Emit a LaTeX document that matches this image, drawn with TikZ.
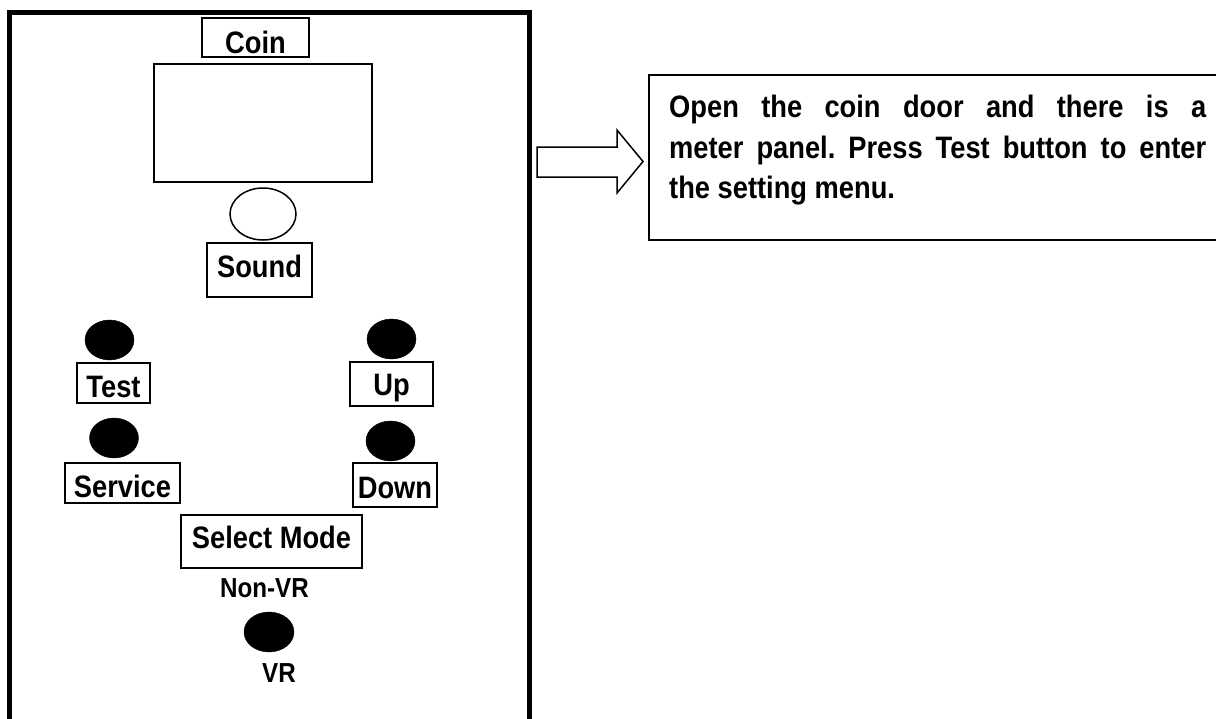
\documentclass[tikz,border=0pt]{standalone}
\usepackage{fontspec}
\newfontfamily\labfont{Liberation Sans}[FakeStretch=0.88]
\usetikzlibrary{shapes.geometric}
\frenchspacing
\begin{document}
\begin{tikzpicture}[x=1pt,y=-1pt,
  lab/.style={font=\labfont\bfseries\fontsize{31}{37}\selectfont},
  smalllab/.style={font=\labfont\bfseries\fontsize{27.5}{32}\selectfont, inner sep=0pt, anchor=base},
  tagbox/.style={lab, draw, line width=1.5pt, inner sep=0pt, text depth=0pt},
  btn/.style={ellipse, fill=black, draw=black, inner sep=0pt, minimum width=49pt, minimum height=40pt},
  plain/.style={draw, inner sep=0pt}
]
\useasboundingbox[fill=white] (0,0) rectangle (1216,718);

% cabinet frame (open at the bottom)
\draw[line width=5pt] (9.5,740) -- (9.5,12.5) -- (529,12.5) -- (529,740);

% coin label and meter window
\node[tagbox, minimum width=107pt, minimum height=39pt, text height=31pt] (coin) at (255.5,37.5) {Coin};
\node[plain, line width=2pt, minimum width=218pt, minimum height=118pt] (meter) at (263,123) {};

% speaker
\node[plain, ellipse, line width=1.5pt, minimum width=66pt, minimum height=52pt] (spk) at (263,214) {};
\node[tagbox, minimum width=105pt, minimum height=54pt, text height=14pt] (sound) at (259.5,270) {Sound};

% buttons
\node[btn] (testbtn) at (109.5,340) {};
\node[tagbox, minimum width=73pt, minimum height=40pt, text height=28pt] (test) at (113.5,383) {Test};
\node[btn] (servbtn) at (114,438) {};
\node[tagbox, minimum width=115pt, minimum height=40pt, text height=28pt] (service) at (122.5,483) {Service};
\node[btn] (upbtn) at (391.5,339) {};
\node[tagbox, minimum width=83pt, minimum height=44pt, text height=22pt] (up) at (391.5,384) {Up};
\node[btn] (downbtn) at (390.5,441) {};
\node[tagbox, minimum width=84pt, minimum height=44pt, text height=26pt] (down) at (395,485) {Down};

% select mode
\node[tagbox, minimum width=181pt, minimum height=53pt, text height=13pt] (select) at (271.5,541.5) {Select Mode};
\node[smalllab] (nonvr) at (264.5,597) {Non-VR};
\node[btn, minimum width=50pt] (vrbtn) at (269,632) {};
\node[smalllab] (vr) at (279,682) {VR};

% block arrow
\draw[line width=1.5pt, line join=miter] (537,147) -- (617,147) -- (617,130) -- (643,161.5)
  -- (617,193) -- (617,177) -- (537,177) -- cycle;

% note box
\node[plain, line width=1.5pt, anchor=north west, minimum width=620pt, minimum height=165pt] (note) at (648,74) {};
\node[lab, anchor=base west, inner sep=0pt] (l1) at (669,117) {\makebox[537pt][s]{Open the coin door and there is a}};
\node[lab, anchor=base west, inner sep=0pt] (l2) at (669,158) {\makebox[537pt][s]{meter panel. Press Test button to enter}};
\node[lab, anchor=base west, inner sep=0pt] (l3) at (669,198.5) {the setting menu.};
\end{tikzpicture}
\end{document}
